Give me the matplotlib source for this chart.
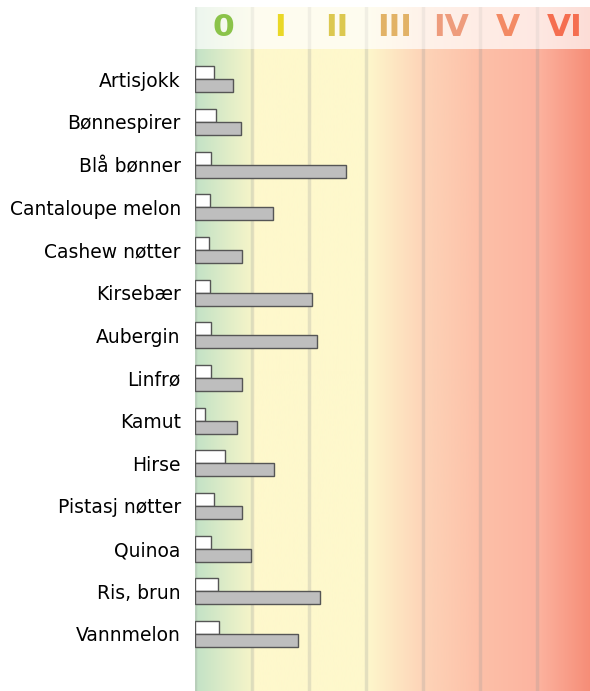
import numpy as np
import matplotlib
matplotlib.use("Agg")
import matplotlib.pyplot as plt
from matplotlib.colors import LinearSegmentedColormap

# kategorier og verdier (i enheter av sone-bredde)
foods = ["Artisjokk", "Bønnespirer", "Blå bønner", "Cantaloupe melon", "Cashew nøtter",
         "Kirsebær", "Aubergin", "Linfrø", "Kamut", "Hirse", "Pistasj nøtter",
         "Quinoa", "Ris, brun", "Vannmelon"]
white_vals = [0.34, 0.37, 0.28, 0.26, 0.25, 0.26, 0.29, 0.28, 0.18, 0.54, 0.33, 0.29, 0.40, 0.42]
gray_vals = [0.68, 0.81, 2.65, 1.38, 0.83, 2.06, 2.14, 0.83, 0.75, 1.39, 0.83, 0.98, 2.20, 1.81]
zones = ["0", "I", "II", "III", "IV", "V", "VI"]
zone_colors = ["#8bc34a", "#ead826", "#dcc850", "#e2b266", "#ee9c7c", "#f38a64", "#f56e50"]

W, H = 590, 691
fig = plt.figure(figsize=(W / 100, H / 100), dpi=100)

x0 = 194.7
zw = 57.0
top = 49.0

# bakgrunnsgradient
stops = [(0 / 7, "#c3e2c6"), (0.99 / 7, "#f6f5c9"), (1 / 7, "#fef8cc"), (3 / 7, "#fef8cc"),
         (4 / 7, "#fdd4b8"), (5 / 7, "#fdc0a8"), (6 / 7, "#fcb4a0"), (7 / 7, "#f68b75")]
cmap = LinearSegmentedColormap.from_list("zones", stops)
grad = np.linspace(0, 1, 700).reshape(1, -1)

ax = fig.add_axes([x0 / W, 0, 7 * zw / W, (H - top) / H])
n = len(foods)
y = np.arange(n)
ylo, yhi = -0.71, 14.34
ax.imshow(grad, cmap=cmap, aspect="auto", extent=[0, 7, yhi, ylo], zorder=0)
for k in range(7):
    ax.axvline(k, color="#999999", alpha=0.25, lw=2.5, zorder=1)

h = 0.305
ax.barh(y - h / 2, white_vals, height=h, color="white", edgecolor="#555555", lw=1, zorder=3)
ax.barh(y + h / 2, gray_vals, height=h, color="#bebebe", edgecolor="#555555", lw=1, zorder=3)

ax.set_xlim(0, 7)
ax.set_ylim(yhi, ylo)
ax.set_yticks(y)
ax.set_yticklabels(foods, fontsize=13.5)
ax.tick_params(axis="y", length=0, pad=10)
ax.set_xticks([])
for s in ax.spines.values():
    s.set_visible(False)

# overskrift med soner
hax = fig.add_axes([x0 / W, (H - 49) / H, 7 * zw / W, 42 / H])
hax.imshow(grad, cmap=cmap, aspect="auto", extent=[0, 7, 0, 1], alpha=0.3, zorder=0)
for k in range(7):
    hax.axvline(k, color="#999999", alpha=0.12, lw=2.5, zorder=1)
for k, (lab, c) in enumerate(zip(zones, zone_colors)):
    hax.text(k + 0.5, 0.5, lab, color=c, fontsize=22.5, fontweight="bold",
             ha="center", va="center", zorder=2)
hax.set_xlim(0, 7)
hax.set_ylim(0, 1)
hax.axis("off")

fig.savefig("out.png", dpi=100)
